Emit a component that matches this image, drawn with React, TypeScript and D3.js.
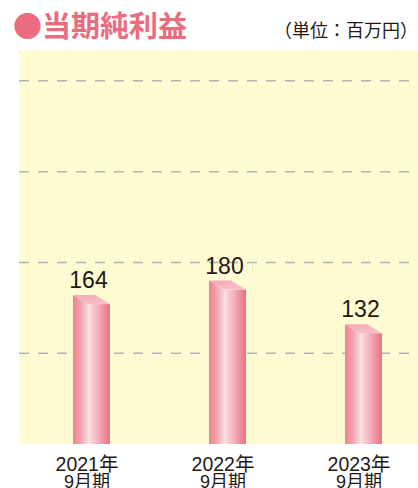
import React from "react";
import * as d3 from "d3";

const categories = ["2021年", "2022年", "2023年"];
const subLabels = ["9月期", "9月期", "9月期"];
const values = [164, 180, 132];
const gridTicks = [100, 200, 300, 400];
const title = "●当期純利益";
const unitLabel = "（単位：百万円）";

const W = 418;
const H = 488;
const plot = { left: 19, right: 418, top: 50, bottom: 444 };

export default function App() {
  const x = d3.scaleBand<string>().domain(categories).range([23.5, 431.5]);
  const y = d3.scaleLinear().domain([0, 434]).range([plot.bottom, plot.top]);
  const sideW = 15;
  const frontW = 22;
  const depth = 9;

  return (
    <svg
      width={W}
      height={H}
      style={{ position: "absolute", left: 0, top: 0 }}
      fontFamily="'Liberation Sans', 'Noto Sans CJK JP', sans-serif"
    >
      <defs>
        <linearGradient id="sideG" x1="0" x2="1" y1="0" y2="0">
          <stop offset="0" stopColor="#ee8190" />
          <stop offset="0.5" stopColor="#f3a3ae" />
          <stop offset="1" stopColor="#fad6dc" />
        </linearGradient>
        <linearGradient id="frontG" x1="0" x2="1" y1="0" y2="0">
          <stop offset="0" stopColor="#fbe3e7" />
          <stop offset="0.35" stopColor="#f6bcc5" />
          <stop offset="1" stopColor="#ea6f80" />
        </linearGradient>
        <linearGradient id="topG" x1="0" x2="1" y1="0" y2="1">
          <stop offset="0" stopColor="#f4a9b4" />
          <stop offset="1" stopColor="#f7c3cb" />
        </linearGradient>
      </defs>
      <rect
        x={plot.left}
        y={plot.top}
        width={plot.right - plot.left}
        height={plot.bottom - plot.top}
        fill="#fffbd3"
      />
      {gridTicks.map((t) => (
        <line
          key={t}
          x1={plot.left}
          x2={plot.right}
          y1={y(t)}
          y2={y(t)}
          stroke="#b3b3b0"
          strokeWidth={1.5}
          strokeDasharray="10 9"
        />
      ))}
      <text
        x={13}
        y={37}
        fontFamily="'Noto Sans CJK JP', sans-serif"
        fontWeight={700}
        fontSize={29}
        fill="#ea6c7e"
      >
        {title}
      </text>
      <text
        x={418}
        y={37}
        textAnchor="end"
        fontFamily="'Noto Sans CJK JP', sans-serif"
        fontSize={18}
        fill="#231815"
      >
        {unitLabel}
      </text>
      {categories.map((c, i) => {
        const cx = (x(c) as number) + x.bandwidth() / 2;
        const left = cx - (sideW + frontW) / 2;
        const fx = left + sideW;
        const right = fx + frontW;
        const yb = y(values[i]);
        const yf = yb + depth;
        const yBase = y(0);
        return (
          <g key={c}>
            <polygon
              points={`${left},${yb} ${fx},${yf} ${fx},${yBase} ${left},${yBase}`}
              fill="url(#sideG)"
            />
            <rect x={fx} y={yf} width={frontW} height={yBase - yf} fill="url(#frontG)" />
            <polygon
              points={`${left},${yb} ${left + frontW},${yb} ${right},${yf} ${fx},${yf}`}
              fill="url(#topG)"
            />
            <text
              x={cx - 3}
              y={yb - 7}
              textAnchor="middle"
              fontSize={23}
              fill="#231815"
            >
              {values[i]}
            </text>
            <text x={cx - 4.5} y={471} textAnchor="middle" fontSize={19.5} fill="#231815">
              {c}
            </text>
            <text x={cx - 4.5} y={488} textAnchor="middle" fontSize={18} fill="#231815">
              {subLabels[i]}
            </text>
          </g>
        );
      })}
    </svg>
  );
}
